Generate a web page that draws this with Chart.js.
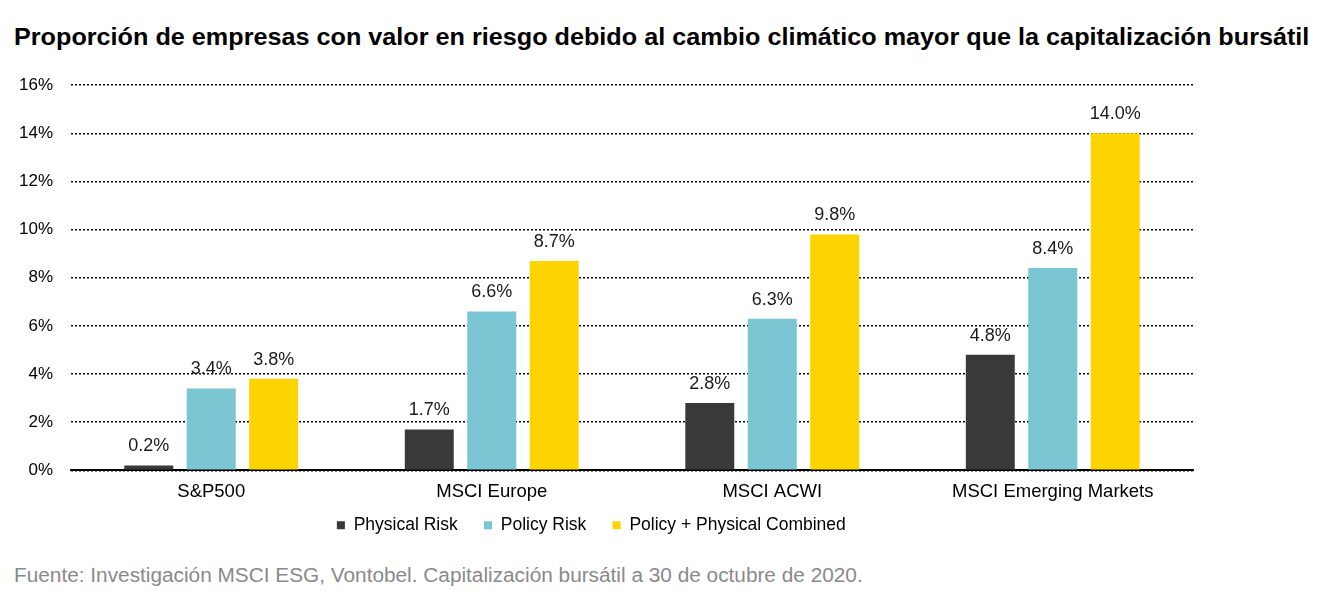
<!DOCTYPE html>
<html>
<head>
<meta charset="utf-8">
<script src="https://cdn.jsdelivr.net/npm/chart.js@4"></script>
<style>
  html, body { margin: 0; padding: 0; background: #fff; width: 1328px; height: 600px; overflow: hidden; font-family: "Liberation Sans", Arial, sans-serif; }
  #title { position: absolute; left: 14px; top: 23px; font-size: 24px; font-weight: bold; color: #000; white-space: nowrap; transform: scaleX(1.05); transform-origin: 0 0; }
  #footer { position: absolute; left: 14px; top: 564px; font-size: 20px; color: #8a8a8a; white-space: nowrap; transform: scaleX(1.04); transform-origin: 0 0; }
  #wrap { position: absolute; left: 0; top: 57px; width: 1210px; height: 493px; }
</style>
</head>
<body>
<div id="title">Proporción de empresas con valor en riesgo debido al cambio climático mayor que la capitalización bursátil</div>
<div id="wrap"><canvas id="c"></canvas></div>
<div id="footer">Fuente: Investigación MSCI ESG, Vontobel. Capitalización bursátil a 30 de octubre de 2020.</div>
<script>
const categories = ["S&P500", "MSCI Europe", "MSCI ACWI", "MSCI Emerging Markets"];
const physicalRisk = [0.2, 1.7, 2.8, 4.8];
const policyRisk = [3.4, 6.6, 6.3, 8.4];
const combined = [3.8, 8.7, 9.8, 14.0];
const seriesNames = ["Physical Risk", "Policy Risk", "Policy + Physical Combined"];
const yTicks = [0, 2, 4, 6, 8, 10, 12, 14, 16];

const FONT = "'Liberation Sans', Arial, sans-serif";

const dataLabels = {
  id: 'dataLabels',
  afterDatasetsDraw(chart) {
    const ctx = chart.ctx;
    ctx.save();
    ctx.font = "18px " + FONT;
    ctx.fillStyle = "#1a1a1a";
    ctx.textAlign = "center";
    ctx.textBaseline = "alphabetic";
    chart.data.datasets.forEach((ds, i) => {
      const meta = chart.getDatasetMeta(i);
      meta.data.forEach((el, j) => {
        ctx.fillText(ds.data[j].toFixed(1) + "%", el.x, el.y - 14);
      });
    });
    ctx.restore();
  }
};

// spacing after legend entries (visual gap only)
const legendGaps = ["     ", "     ", "     "];

new Chart(document.getElementById('c'), {
  type: 'bar',
  data: {
    labels: categories,
    datasets: [
      { label: seriesNames[0], data: physicalRisk, backgroundColor: "#383a38" },
      { label: seriesNames[1], data: policyRisk, backgroundColor: "#7bc6d3" },
      { label: seriesNames[2], data: combined, backgroundColor: "#fdd400" }
    ]
  },
  options: {
    responsive: true,
    maintainAspectRatio: false,
    animation: false,
    layout: { padding: { left: 14, right: 17, top: 9, bottom: 6 } },
    datasets: { bar: { categoryPercentage: 0.668, barPercentage: 0.784 } },
    plugins: {
      legend: {
        position: 'bottom',
        labels: {
          boxWidth: 8, boxHeight: 8, padding: 2, color: "#000",
          font: { size: 17.5, family: FONT },
          generateLabels(chart) {
            const items = Chart.defaults.plugins.legend.labels.generateLabels(chart);
            items.forEach((it, i) => { it.text = it.text + legendGaps[i]; it.lineWidth = 0; });
            return items;
          }
        }
      },
      tooltip: { enabled: false },
      title: { display: false }
    },
    scales: {
      x: {
        grid: { display: false, drawTicks: false },
        border: { display: true, color: "#000", width: 2 },
        ticks: { color: "#000", font: { size: 18.5, family: FONT }, padding: 11 }
      },
      y: {
        min: 0, max: 16,
        afterBuildTicks(axis) { axis.ticks = yTicks.map(v => ({ value: v })); },
        afterFit(axis) { axis.width = 57; },
        grid: { color: "#000", lineWidth: 1.5, drawTicks: false },
        border: { display: false, dash: [2, 2] },
        ticks: { color: "#000", font: { size: 17, family: FONT }, padding: 18, callback: v => v + "%" }
      }
    }
  },
  plugins: [dataLabels]
});
</script>
</body>
</html>
